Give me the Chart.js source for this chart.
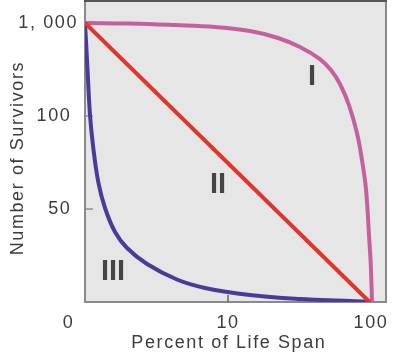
<!DOCTYPE html>
<html>
<head>
<meta charset="utf-8">
<script src="https://cdn.jsdelivr.net/npm/chart.js@4/dist/chart.umd.min.js"></script>
<style>
  html, body { margin: 0; padding: 0; background: #ffffff; }
  #wrap { width: 400px; height: 358px; }
</style>
</head>
<body>
<div id="wrap"><canvas id="c" width="400" height="358"></canvas></div>
<script>
// ---- data (axis units: x 0,1,2 = 0,10,100 % ; y 1,2,3 = 50,100,1000 survivors) ----
const xTickValues = [0, 1, 2];
const xTickLabels = ['0', '10', '100'];
const yTickValues = [1, 2, 3];
const yTickLabels = ['50', '100', '1, 000'];

const seriesNames = ['II', 'I', 'III'];

const type2X = [0, 1.99];
const type2Y = [3, 0];

const type1X = [0, 0.315, 0.629, 0.909, 1.154, 1.350, 1.503, 1.643, 1.720, 1.783, 1.846, 1.902, 1.937, 1.962, 1.976, 1.986, 1.997, 2.003, 2.007];
const type1Y = [3.0, 2.995, 2.978, 2.957, 2.914, 2.839, 2.742, 2.613, 2.495, 2.344, 2.118, 1.817, 1.527, 1.258, 0.989, 0.720, 0.452, 0.215, 0];

const type3X = [0, 0.016, 0.035, 0.058, 0.093, 0.140, 0.210, 0.294, 0.434, 0.643, 0.839, 1.154, 1.503, 1.853, 1.993];
const type3Y = [3.0, 2.548, 2.011, 1.656, 1.290, 1.011, 0.753, 0.581, 0.409, 0.242, 0.151, 0.075, 0.032, 0.011, 0];

// ---- styles / placement ----
const TEXT = '#3c3c3c';
const FONT = 'Liberation Sans, Arial, Helvetica, sans-serif';
const xLabelPad = ['     ', '', ''];
const yLabelPad = [' ', ' ', ''];
const romanPos = [
  { text: 'I', x: 1.587, y: 2.43 },
  { text: 'II', x: 0.93, y: 1.27 },
  { text: 'III', x: 0.196, y: 0.33 }
];

function pts(xs, ys) { return xs.map((x, i) => ({ x: x, y: ys[i] })); }

const boxPlugin = {
  id: 'box',
  beforeUpdate(chart) { chart.ctx.letterSpacing = '1.6px'; },
  beforeDraw(chart) {
    const { ctx, chartArea: a } = chart;
    ctx.save();
    ctx.fillStyle = '#e6e6e6';
    ctx.fillRect(a.left, a.top, a.right - a.left, a.bottom - a.top);
    ctx.restore();
    ctx.letterSpacing = '1.6px';
  },
  beforeDatasetsDraw(chart) {
    const { ctx, chartArea: a, scales } = chart;
    ctx.save();
    ctx.strokeStyle = '#8a8a8a';
    ctx.lineWidth = 2;
    ctx.strokeRect(a.left, a.top, a.right - a.left, a.bottom - a.top);
    ctx.strokeStyle = '#555555';
    ctx.beginPath(); ctx.moveTo(a.left - 1, a.top); ctx.lineTo(a.right + 1, a.top); ctx.stroke();
    // inner tick marks
    ctx.strokeStyle = '#8f8f8f';
    ctx.lineWidth = 1.5;
    [1, 2].forEach(v => {
      const y = scales.y.getPixelForValue(v);
      ctx.beginPath(); ctx.moveTo(a.left, y); ctx.lineTo(a.left + 8, y); ctx.stroke();
    });
    ctx.strokeStyle = '#666666';
    const x10 = scales.x.getPixelForValue(1);
    ctx.beginPath(); ctx.moveTo(x10, a.bottom); ctx.lineTo(x10, a.bottom - 7); ctx.stroke();
    ctx.restore();
  },
  afterDatasetsDraw(chart) {
    const { ctx, scales } = chart;
    ctx.save();
    ctx.letterSpacing = '0px';
    ctx.fillStyle = '#444444';
    ctx.font = 'bold 29px ' + FONT;
    ctx.textAlign = 'center';
    ctx.textBaseline = 'middle';
    romanPos.forEach(r => {
      ctx.fillText(r.text, scales.x.getPixelForValue(r.x), scales.y.getPixelForValue(r.y) + 1);
    });
    ctx.restore();
  }
};

new Chart(document.getElementById('c'), {
  type: 'line',
  data: {
    datasets: [
      { label: seriesNames[0], data: pts(type2X, type2Y), borderColor: '#e0352c', borderWidth: 4, pointRadius: 0, tension: 0 },
      { label: seriesNames[1], data: pts(type1X, type1Y), borderColor: '#c4609e', borderWidth: 4, pointRadius: 0, tension: 0.4 },
      { label: seriesNames[2], data: pts(type3X, type3Y), borderColor: '#4b3b98', borderWidth: 4, pointRadius: 0, tension: 0.4 }
    ]
  },
  options: {
    responsive: false,
    devicePixelRatio: 1,
    animation: false,
    layout: { padding: { top: 1, right: 14, left: 0, bottom: 0 } },
    plugins: { legend: { display: false }, tooltip: { enabled: false } },
    scales: {
      x: {
        type: 'linear', min: 0, max: 2.105,
        afterBuildTicks: s => { s.ticks = xTickValues.map(v => ({ value: v })); },
        afterFit: s => { s.height = 56; s.paddingLeft = 0; s.paddingRight = 0; },
        grid: { display: false, drawTicks: false },
        border: { display: false },
        ticks: {
          autoSkip: false, maxRotation: 0, padding: 10, color: TEXT,
          font: { family: FONT, size: 18 },
          callback: (v, i) => xTickLabels[i] + xLabelPad[i]
        },
        title: {
          display: true, text: 'Percent of Life Span  ', color: TEXT,
          font: { family: FONT, size: 18 }, padding: { top: 0, bottom: 4 }
        }
      },
      y: {
        type: 'linear', min: 0, max: 3.237,
        afterBuildTicks: s => { s.ticks = yTickValues.map(v => ({ value: v })); },
        afterFit: s => { s.width = 85; s.paddingTop = 0; s.paddingBottom = 0; },
        grid: { display: false, drawTicks: false },
        border: { display: false },
        ticks: {
          autoSkip: false, padding: 7, color: TEXT,
          font: { family: FONT, size: 18 },
          callback: (v, i) => yTickLabels[i] + yLabelPad[i]
        },
        title: {
          display: true, text: 'Number of Survivors  ', color: TEXT,
          font: { family: FONT, size: 18 }, padding: { top: 7, bottom: 0 }
        }
      }
    }
  },
  plugins: [boxPlugin]
});
</script>
</body>
</html>
